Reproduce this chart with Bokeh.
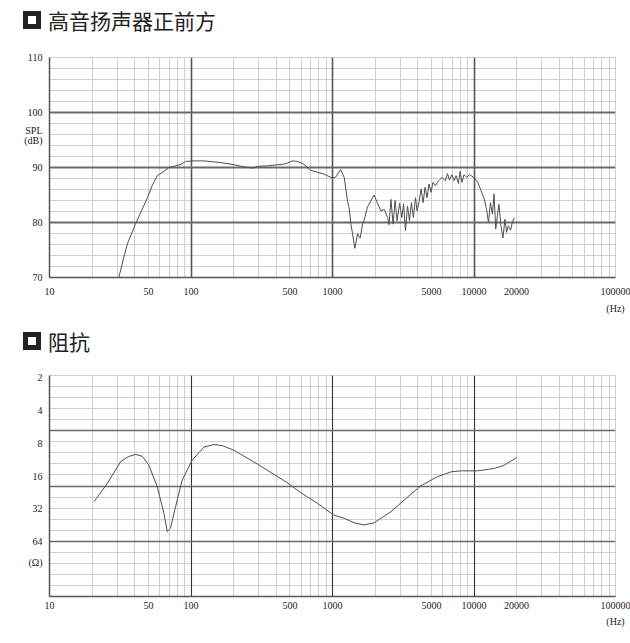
from bokeh.plotting import figure
from bokeh.models import (Range1d, FixedTicker, Grid, NumeralTickFormatter, Div, LogAxis)
from bokeh.layouts import column
from bokeh.embed import file_html
from bokeh.resources import INLINE

# ---------------- data ----------------
title_spl = "高音扬声器正前方"
title_imp = "阻抗"

freq_ticks = [10, 50, 100, 500, 1000, 5000, 10000, 20000, 100000]
spl_ticks = [70, 80, 90, 100, 110]
imp_ticks = [2, 4, 8, 16, 32, 64]

spl_freq = [30.9, 33, 35.5, 40.6, 45, 49.2, 53.2, 57.7, 64.4, 69.9, 77.8, 85, 91.5, 105,
            123.6, 162, 202, 250, 272, 295, 347, 408, 450, 480, 521, 565, 628, 700, 870,
            993, 1050, 1140, 1210, 1277, 1310, 1350, 1440, 1505, 1545, 1570, 1630, 1670,
            1770, 1865, 1970, 2080, 2200, 2320, 2450, 2510, 2590, 2680, 2770, 2860, 2980,
            3090, 3180, 3280, 3390, 3500, 3610, 3730, 3860, 3960, 4100, 4230, 4370, 4510,
            4660, 4810, 4970, 5130, 5330, 5630, 5940, 6260, 6500, 6710, 6980, 7240, 7470,
            7760, 7970, 8230, 8500, 8870, 9300, 9930, 10630, 11210, 11810, 12260, 12660,
            13070, 13500, 13860, 14240, 14620, 15010, 15510, 16020, 16550, 17000, 17450,
            18150, 18630, 19250]
spl_db = [70.0, 73.0, 76.1, 79.8, 82.3, 84.5, 86.7, 88.5, 89.3, 90.0, 90.3, 90.6, 91.1, 91.2,
          91.2, 90.9, 90.5, 90.0, 89.9, 90.2, 90.3, 90.5, 90.6, 90.8, 91.2, 91.1, 90.6, 89.5, 88.8,
          88.1, 88.2, 89.6, 88.2, 83.9, 82.7, 79.7, 75.3, 78.0, 77.3, 77.2, 79.7, 80.3,
          82.9, 83.9, 85.0, 83.5, 82.1, 82.4, 80.9, 79.6, 84.2, 79.7, 84.0, 80.3, 83.5,
          80.9, 83.4, 78.5, 83.0, 80.3, 83.6, 80.9, 84.5, 82.1, 83.9, 86.1, 83.6, 86.4,
          84.5, 87.0, 85.5, 87.3, 86.7, 87.6, 88.2, 87.6, 88.9, 87.7, 88.7, 87.6, 88.5,
          87.1, 89.3, 87.3, 88.7, 88.2, 88.7, 88.2, 87.3, 85.8, 84.3, 82.4, 80.0,
          83.6, 81.5, 85.2, 78.8, 81.2, 83.3, 79.4, 77.2, 80.6, 78.2, 79.4,
          78.6, 80.0, 80.9]

imp_freq = [20.6, 25.6, 31.8, 36, 40.6, 45.2, 50.4, 57.7, 64.4, 68, 71.5, 77.8, 86.6, 102,
            123.6, 145.6, 166.7, 201, 295, 480, 598, 783, 1020, 1210, 1420, 1670, 1970,
            2200, 2590, 3210, 4190, 5490, 6890, 8120, 10650, 13900, 16350, 20000]
imp_ohm = [27.5, 18.7, 11.8, 10.6, 10.1, 10.5, 12.7, 20.0, 35.1, 51.7, 48.2, 30.5, 17.4, 11.4,
           8.63, 8.2, 8.4, 9.25, 12.4, 18.4, 22.7, 28.4, 36.4, 39.0, 42.8, 44.9, 42.8,
           39.0, 33.9, 26.5, 19.7, 16.2, 14.6, 14.3, 14.3, 13.6, 12.7, 10.8]

# ---------------- styles ----------------
W = 630
LEFT, RIGHT = 49, 15
TICK_FONT = "Liberation Serif"
TICK_SIZE = "10px"
MINOR = "#cfcfcf"
MAJOR = "#6a6a6a"
LINE = "#4f4f4f"

minor_x = [k * 10 ** n for n in range(1, 5) for k in range(2, 10)]
major_x = [100, 1000, 10000]


def title_div(text, top_pad, height):
    html = (
        f'<div style="box-sizing:border-box;display:flex;height:{height}px;'
        f'padding-top:{top_pad}px;align-items:flex-start;padding-left:23px;'
        f'font-family:\'Noto Sans CJK SC\';font-size:21px;line-height:24px;color:#222;">'
        f'<span style="box-sizing:border-box;display:inline-block;width:18px;height:18px;'
        f'border:5px solid #222;background:#fff;margin-top:3px;margin-right:7px;flex:none;"></span>'
        f'<span>{text}</span></div>'
    )
    return Div(text=html, width=W, height=height, margin=(0, 0, 0, 0))


def style_axis(ax):
    ax.major_tick_out = 0
    ax.major_tick_in = 0
    ax.minor_tick_out = 0
    ax.minor_tick_in = 0
    ax.major_label_text_font = TICK_FONT
    ax.major_label_text_font_size = TICK_SIZE
    ax.major_label_text_color = "#222222"


def base_fig(height, top, bottom, y_range, y_type):
    p = figure(width=W, height=height, x_axis_type="log", y_axis_type=y_type,
               x_range=Range1d(10, 100000), y_range=y_range,
               output_backend="svg", toolbar_location=None,
               min_border_left=LEFT, min_border_right=RIGHT,
               min_border_top=top, min_border_bottom=bottom)
    p.margin = (0, 0, 0, 0)
    p.grid.visible = False
    p.outline_line_color = MINOR
    p.background_fill_color = "white"
    p.border_fill_color = "white"
    for ax in (p.xaxis[0], p.yaxis[0]):
        style_axis(ax)
        ax.axis_line_color = "#555555"
        ax.axis_line_width = 1.5
    p.xaxis.ticker = FixedTicker(ticks=freq_ticks)
    p.xaxis.formatter = NumeralTickFormatter(format="0")
    p.yaxis.major_label_standoff = 7
    p.add_layout(Grid(dimension=0, ticker=FixedTicker(ticks=minor_x),
                      grid_line_color=MINOR, grid_line_width=1))
    return p


def hz_axis(standoff):
    ax = LogAxis(ticker=FixedTicker(ticks=[100000]), major_label_overrides={100000: "(Hz)"})
    style_axis(ax)
    ax.axis_line_color = None
    ax.major_label_standoff = standoff
    ax.major_label_text_align = "left"
    return ax


# ---------------- SPL chart ----------------
spl_minor_y = list(range(72, 110, 2))
p1 = base_fig(270, 9, 41, Range1d(70, 110), "linear")
p1.add_layout(Grid(dimension=1, ticker=FixedTicker(ticks=spl_minor_y),
                   grid_line_color=MINOR, grid_line_width=1))
p1.add_layout(Grid(dimension=0, ticker=FixedTicker(ticks=major_x),
                   grid_line_color="#555555", grid_line_width=1.6))
p1.add_layout(Grid(dimension=1, ticker=FixedTicker(ticks=[80, 90, 100]),
                   grid_line_color=MAJOR, grid_line_width=1.8))
p1.yaxis.ticker = FixedTicker(ticks=spl_ticks + [96.7, 94.9])
p1.yaxis.major_label_overrides = {96.7: "SPL", 94.9: "(dB)"}
p1.xaxis.major_label_standoff = 10
p1.line(spl_freq, spl_db, line_color=LINE, line_width=1)
p1.add_layout(hz_axis(5), "below")

# ---------------- impedance chart ----------------
y_top, y_bot = 1.906, 203.5
imp_grid = [y_top * (y_bot / y_top) ** (k / 20) for k in range(1, 20)]
imp_major = [imp_grid[4], imp_grid[9], imp_grid[14]]
imp_minor = [v for i, v in enumerate(imp_grid) if i not in (4, 9, 14)]

p2 = base_fig(263, 9, 32, Range1d(y_bot, y_top), "log")
p2.add_layout(Grid(dimension=1, ticker=FixedTicker(ticks=imp_minor),
                   grid_line_color=MINOR, grid_line_width=1))
p2.add_layout(Grid(dimension=0, ticker=FixedTicker(ticks=major_x),
                   grid_line_color="#333333", grid_line_width=1.1))
p2.add_layout(Grid(dimension=1, ticker=FixedTicker(ticks=imp_major),
                   grid_line_color=MAJOR, grid_line_width=1.6))
p2.yaxis.ticker = FixedTicker(ticks=imp_ticks + [100])
p2.yaxis.formatter = NumeralTickFormatter(format="0")
p2.yaxis.major_label_overrides = {100: "(Ω)"}
p2.xaxis.major_label_standoff = 5
p2.line(imp_freq, imp_ohm, line_color=LINE, line_width=1)
p2.add_layout(hz_axis(4), "below")

layout = column(title_div(title_spl, 8, 48), p1, title_div(title_imp, 11, 48), p2,
                spacing=0, margin=(0, 0, 0, 0))

open("out.html", "w").write(file_html(layout, INLINE))
